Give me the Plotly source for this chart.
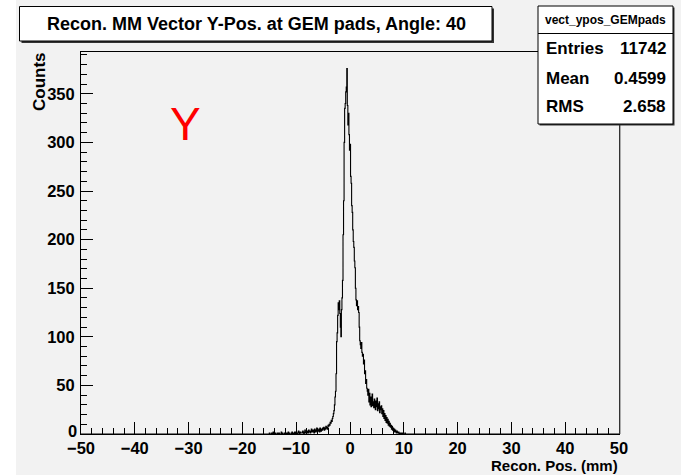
import numpy as np
import plotly.graph_objects as go

# ---------------- data ----------------
bin_start = -15.0          # lower edge of first listed bin (mm)
bin_width = 0.1            # mm
counts = [
    1, 0, 0, 0, 1, 0, 0, 2, 0, 0,            # -15.0
    0, 1, 0, 0, 0, 1, 0, 0, 1, 0,            # -14.0
    0, 0, 2, 0, 1, 0, 0, 0, 1, 0,            # -13.0
    1, 0, 0, 1, 0, 2, 0, 1, 0, 0,            # -12.0
    0, 1, 2, 0, 1, 0, 1, 2, 0, 1,            # -11.0
    2, 1, 0, 1, 3, 1, 0, 2, 1, 1,            # -10.0
    1, 2, 3, 1, 0, 2, 4, 1, 2, 1,            # -9.0
    3, 2, 1, 4, 2, 3, 1, 2, 5, 3,            # -8.0
    2, 4, 3, 1, 5, 3, 2, 4, 6, 3,            # -7.0
    4, 3, 5, 2, 6, 4, 3, 5, 4, 6,            # -6.0
    5, 7, 4, 6, 5, 8, 6, 7, 5, 9,            # -5.0
    8, 10, 9, 12, 11, 14, 13, 16, 18, 21,    # -4.0
    24, 30, 38, 44, 62, 95, 104, 122, 135, 128,        # -3.0
    137, 124, 110, 100, 128, 140, 158, 205, 240, 300,  # -2.0
    335, 340, 352, 357, 376, 338, 318, 330, 308, 292,  # -1.0
    298, 265, 258, 235, 228, 210, 198, 192, 178, 171,  # 0.0
    150, 138, 132, 137, 128, 131, 125, 110, 96, 92,    # 1.0
    88, 94, 84, 80, 82, 72, 76, 62, 65, 52,            # 2.0
    56, 47, 44, 40, 46, 33, 42, 30, 38, 28,            # 3.0
    35, 41, 29, 33, 27, 36, 30, 25, 34, 28,            # 4.0
    37, 24, 31, 26, 33, 22, 28, 25, 29, 21,            # 5.0
    26, 18, 24, 16, 21, 14, 19, 12, 17, 11,            # 6.0
    15, 9, 13, 8, 11, 7, 9, 5, 8, 4,                   # 7.0
    6, 3, 5, 2, 4, 3, 1, 3, 2, 1,                      # 8.0
    2, 0, 1, 1, 0, 1, 0, 0, 1, 0,                      # 9.0
    0, 0, 1, 0, 0,                                     # 10.0
]

title_text = "Recon. MM Vector Y-Pos. at GEM pads, Angle: 40"
stats_name = "vect_ypos_GEMpads"
stats_labels = ["Entries", "Mean", "RMS"]
stats_values = ["11742", "0.4599", "2.658"]
x_title = "Recon. Pos. (mm)"
y_title = "Counts"
label_text = "Y"
x_range = [-50, 50]
y_range = [0, 393]
y_ticks = [0, 50, 100, 150, 200, 250, 300, 350]

# ---------------- geometry (pixels) ----------------
WIDTH, HEIGHT = 681, 475
L, R, T, B = 81, 619, 52, 434
PW, PH = R - L, B - T

def px(xp):
    return (xp - L) / PW

def py(yp):
    return (B - yp) / PH

FONT = "Liberation Sans, Arial, Helvetica, sans-serif"
BG = "#f2f2f2"

edges = bin_start + bin_width * np.arange(len(counts) + 1)
xs = [x_range[0]] + list(edges) + [x_range[1]]
ys = [0] + list(counts) + [0, 0]

fig = go.Figure()
fig.add_trace(go.Scatter(
    x=xs, y=ys, mode="lines",
    line=dict(color="black", width=1.1, shape="hv"),
    hoverinfo="skip", showlegend=False,
))

shapes = []
# white strip on the left of the canvas
shapes.append(dict(type="rect", xref="paper", yref="paper",
                   x0=px(0), x1=px(16), y0=py(0), y1=py(HEIGHT),
                   fillcolor="white", line=dict(width=0), layer="below"))
# extra dark line along the right frame edge
shapes.append(dict(type="line", xref="paper", yref="paper",
                   x0=px(620), x1=px(620), y0=py(T), y1=py(B),
                   line=dict(color="#666666", width=1), layer="above"))
# title box with shadow
shapes.append(dict(type="rect", xref="paper", yref="paper",
                   x0=px(21.5), x1=px(494), y0=py(8.5), y1=py(43),
                   fillcolor="#333333", line=dict(width=0), layer="above"))
shapes.append(dict(type="rect", xref="paper", yref="paper",
                   x0=px(19.5), x1=px(492), y0=py(6.5), y1=py(41),
                   fillcolor="white", line=dict(color="black", width=1), layer="above"))
# stats box
shapes.append(dict(type="rect", xref="paper", yref="paper",
                   x0=px(539.5), x1=px(674.5), y0=py(7.5), y1=py(125.5),
                   fillcolor="#333333", line=dict(width=0), layer="above"))
shapes.append(dict(type="rect", xref="paper", yref="paper",
                   x0=px(538), x1=px(673), y0=py(6), y1=py(124),
                   fillcolor="white", line=dict(color="black", width=1), layer="above"))
shapes.append(dict(type="line", xref="paper", yref="paper",
                   x0=px(538), x1=px(673), y0=py(33.5), y1=py(33.5),
                   line=dict(color="black", width=1), layer="above"))

annotations = []
annotations.append(dict(text=title_text, xref="paper", yref="paper",
                        x=px(256), y=py(24), xanchor="center", yanchor="middle",
                        showarrow=False,
                        font=dict(family=FONT, size=18, color="black", weight="bold")))
annotations.append(dict(text=stats_name, xref="paper", yref="paper",
                        x=px(605.5), y=py(20), xanchor="center", yanchor="middle",
                        showarrow=False,
                        font=dict(family=FONT, size=12, color="black", weight="bold")))
row_y = [48, 78, 107]
for lab, val, yy in zip(stats_labels, stats_values, row_y):
    annotations.append(dict(text=lab, xref="paper", yref="paper",
                            x=px(544), y=py(yy), xanchor="left", yanchor="middle",
                            showarrow=False,
                            font=dict(family=FONT, size=17, color="black", weight="bold")))
    annotations.append(dict(text=val, xref="paper", yref="paper",
                            x=px(668), y=py(yy), xanchor="right", yanchor="middle",
                            showarrow=False,
                            font=dict(family=FONT, size=17, color="black", weight="bold")))
annotations.append(dict(text=label_text, xref="paper", yref="paper",
                        x=px(185), y=py(124), xanchor="center", yanchor="middle",
                        showarrow=False,
                        font=dict(family=FONT, size=46, color="red")))
annotations.append(dict(text=y_title, xref="paper", yref="paper",
                        x=px(39), y=py(82), xanchor="center", yanchor="middle",
                        textangle=-90, showarrow=False,
                        font=dict(family=FONT, size=17, color="black", weight="bold")))
annotations.append(dict(text=x_title, xref="paper", yref="paper",
                        x=px(619), y=py(475), xanchor="right", yanchor="bottom",
                        showarrow=False, borderpad=0,
                        font=dict(family=FONT, size=15, color="black", weight="bold")))
# the y "0" label sits slightly raised so it clears the "-50" label below it
annotations.append(dict(text=str(y_ticks[0]), xref="paper", yref="y",
                        x=px(77.5), y=y_ticks[0] + 3.5, xanchor="right", yanchor="middle",
                        showarrow=False, borderpad=0,
                        font=dict(family=FONT, size=16.5, color="black", weight="bold")))

tickfont = dict(family=FONT, size=16.5, color="black", weight="bold")

fig.update_layout(
    width=WIDTH, height=HEIGHT,
    margin=dict(l=L, r=WIDTH - R, t=T, b=HEIGHT - B, pad=0),
    paper_bgcolor=BG, plot_bgcolor=BG,
    shapes=shapes, annotations=annotations,
    showlegend=False,
    xaxis=dict(range=x_range, tickmode="linear", tick0=-50, dtick=10,
               ticks="inside", ticklen=12, tickwidth=1, tickcolor="black",
               minor=dict(ticks="inside", ticklen=6, dtick=2, tickcolor="black", showgrid=False),
               showline=True, mirror=True, linecolor="black", linewidth=1,
               showgrid=False, zeroline=False, tickfont=tickfont,
               ticklabelstandoff=-1, fixedrange=True),
    yaxis=dict(range=y_range, tickmode="array", tickvals=y_ticks,
               ticktext=[""] + [str(v) for v in y_ticks[1:]],
               ticks="inside", ticklen=12, tickwidth=1, tickcolor="black",
               minor=dict(ticks="inside", ticklen=6, tick0=0, dtick=10,
                          tickmode="linear", tickcolor="black", showgrid=False),
               showline=True, mirror=True, linecolor="black", linewidth=1,
               showgrid=False, zeroline=False, tickfont=tickfont,
               ticklabelstandoff=2, fixedrange=True),
)

fig.write_html("out.html", config={"displayModeBar": False})
